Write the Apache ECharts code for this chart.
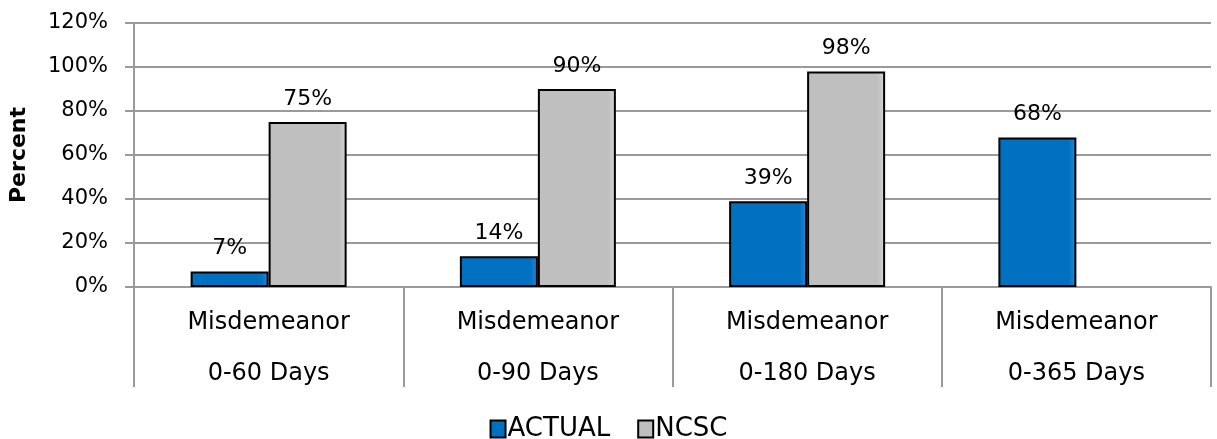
<!DOCTYPE html>
<html>
<head>
<meta charset="utf-8">
<script src="https://cdn.jsdelivr.net/npm/echarts@6/dist/echarts.min.js"></script>
<style>
html,body{margin:0;padding:0;background:#fff;}
#chart{width:1217px;height:439px;}
</style>
</head>
<body>
<div id="chart"></div>
<script>
const categories = ['Misdemeanor\n0-60 Days', 'Misdemeanor\n0-90 Days', 'Misdemeanor\n0-180 Days', 'Misdemeanor\n0-365 Days'];
const actualValues = [7, 14, 39, 68];
const ncscValues = [75, 90, 98, null];
const seriesNames = ['ACTUAL', 'NCSC'];
const yTicks = [0, 20, 40, 60, 80, 100, 120];

const FONT = '"Century Gothic", "DejaVu Sans", sans-serif';
const chart = echarts.init(document.getElementById('chart'));
const labelCfg = {
  show: true, position: 'top', distance: 12,
  formatter: p => p.value == null ? '' : p.value + '%',
  fontFamily: FONT, fontSize: 22, color: '#000'
};
function bevel(base, light) {
  return new echarts.graphic.LinearGradient(0, 0, 1, 0, [
    {offset: 0, color: base}, {offset: 0.9, color: base}, {offset: 1, color: light}
  ]);
}
chart.setOption({
  animation: false,
  textStyle: {fontFamily: FONT},
  grid: {left: 133, right: 6, top: 23, bottom: 152, containLabel: false},
  legend: {
    top: 411, left: 'center',
    itemWidth: 15, itemHeight: 17, itemGap: 27,
    icon: 'rect',
    textStyle: {fontFamily: FONT, fontSize: 26, color: '#000', padding: [0,0,0,-3]},
    data: seriesNames
  },
  xAxis: {
    type: 'category',
    data: categories,
    axisLine: {show: true, lineStyle: {color: '#9a9a9a', width: 2}},
    axisTick: {show: true, alignWithLabel: false, length: 100, lineStyle: {color: '#9a9a9a', width: 2}},
    axisLabel: {
      margin: 10, fontFamily: FONT, fontSize: 24, color: '#000', lineHeight: 51, interval: 0
    }
  },
  yAxis: {
    type: 'value', min: 0, max: 120, interval: 20,
    name: 'Percent', nameLocation: 'middle', nameGap: 104,
    nameTextStyle: {fontFamily: FONT, fontSize: 22, fontWeight: 'bold', color: '#000'},
    axisLine: {show: true, lineStyle: {color: '#9a9a9a', width: 2}},
    axisTick: {show: true, length: 9, lineStyle: {color: '#9a9a9a', width: 2}},
    axisLabel: {
      margin: 26, fontFamily: FONT, fontSize: 21, color: '#000',
      formatter: v => yTicks.includes(v) ? v + '%' : ''
    },
    splitLine: {lineStyle: {color: '#9a9a9a', width: 2}}
  },
  series: [
    {
      name: seriesNames[0], type: 'bar', data: actualValues, barWidth: 78, barGap: '0%',
      itemStyle: {color: bevel('#0070C0', '#2b8ad8'), borderColor: '#000', borderWidth: 2},
      label: labelCfg
    },
    {
      name: seriesNames[1], type: 'bar', data: ncscValues, barWidth: 78, barGap: '0%',
      itemStyle: {color: bevel('#BFBFBF', '#d6d6d6'), borderColor: '#000', borderWidth: 2},
      label: labelCfg
    }
  ]
});
</script>
</body>
</html>
